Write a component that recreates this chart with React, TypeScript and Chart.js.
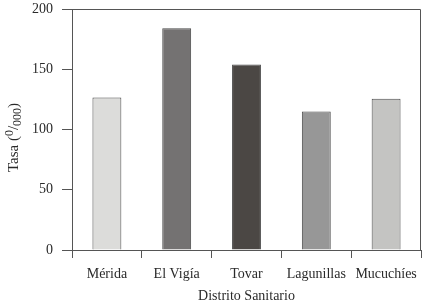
import React, { useEffect, useRef } from "react";
import { Chart, registerables } from "chart.js";

Chart.register(...registerables);

const categories = ["Mérida", "El Vigía", "Tovar", "Lagunillas", "Mucuchíes"];
const tasa = [126.5, 184, 154, 115, 125.5];
const barColors = ["#dcdcda", "#747272", "#4b4744", "#979797", "#c4c4c2"];
const yTicks = [0, 50, 100, 150, 200];
const xTitle = "Distrito Sanitario";

const FONT = "'Liberation Serif', 'Times New Roman', serif";
const AXIS = "#555555";
const TEXT = "#2a2a2a";

const framePlugin = {
  id: "frame",
  afterDraw(chart: any) {
    const { ctx, chartArea } = chart;
    const { left, right, top, bottom } = chartArea;
    ctx.save();
    ctx.strokeStyle = AXIS;
    ctx.lineWidth = 1;
    ctx.beginPath();
    ctx.moveTo(left, Math.round(top) + 0.5);
    ctx.lineTo(right - 0.5, Math.round(top) + 0.5);
    ctx.lineTo(right - 0.5, bottom);
    ctx.stroke();

    // x title
    ctx.fillStyle = TEXT;
    ctx.font = `14px ${FONT}`;
    ctx.textAlign = "center";
    ctx.textBaseline = "alphabetic";
    ctx.fillText(xTitle, (left + right) / 2, 300);

    // y title: Tasa (0/000) with super/subscript
    const big = `15px ${FONT}`;
    const small = `12px ${FONT}`;
    const parts: [string, string, number][] = [
      ["Tasa (", big, 0],
      ["0", small, -5],
      ["/", big, 0],
      ["000", small, 3],
      [")", big, 0],
    ];
    let total = 0;
    const widths = parts.map(([t, f]) => {
      ctx.font = f;
      const w = ctx.measureText(t).width;
      total += w;
      return w;
    });
    ctx.translate(18, 137.5);
    ctx.rotate(-Math.PI / 2);
    ctx.textAlign = "left";
    let x = -total / 2;
    parts.forEach(([t, f, dy], i) => {
      ctx.font = f;
      ctx.fillText(t, x, dy);
      x += widths[i];
    });
    ctx.restore();
  },
};

export default function App() {
  const ref = useRef<HTMLCanvasElement>(null);
  useEffect(() => {
    if (!ref.current) return;
    const chart = new Chart(ref.current, {
      type: "bar",
      data: {
        labels: categories,
        datasets: [
          {
            data: tasa,
            backgroundColor: barColors,
            borderColor: "#4a4a4a",
            borderWidth: 1,
            categoryPercentage: 1,
            barPercentage: 0.414,
          },
        ],
      },
      options: {
        animation: false,
        responsive: false,
        maintainAspectRatio: false,
        layout: { padding: { top: 9, right: 1, left: 0, bottom: 0 } },
        plugins: { legend: { display: false }, tooltip: { enabled: false } },
        scales: {
          x: {
            grid: {
              display: true,
              drawOnChartArea: false,
              drawTicks: true,
              tickLength: 8,
              color: AXIS,
              offset: true,
            },
            border: { display: true, color: AXIS },
            ticks: {
              color: TEXT,
              font: { family: FONT, size: 14, lineHeight: 1.2 },
              padding: 8,
              maxRotation: 0,
            },
            afterFit: (s: any) => {
              s.height = 56;
              s.paddingLeft = 0;
              s.paddingRight = 0;
            },
          },
          y: {
            min: 0,
            max: 200,
            afterBuildTicks: (s: any) => {
              s.ticks = yTicks.map((v) => ({ value: v }));
            },
            grid: {
              display: true,
              drawOnChartArea: false,
              drawTicks: true,
              tickLength: 10,
              color: AXIS,
            },
            border: { display: true, color: AXIS },
            ticks: {
              color: TEXT,
              font: { family: FONT, size: 14, lineHeight: 1.2 },
              padding: 9,
            },
            afterFit: (s: any) => {
              s.width = 72;
              s.paddingTop = 0;
              s.paddingBottom = 0;
            },
          },
        },
      },
      plugins: [framePlugin],
    });
    return () => chart.destroy();
  }, []);
  return (
    <div style={{ position: "fixed", left: 0, top: 0, width: 422, height: 306, background: "#fff" }}>
      <canvas ref={ref} width={422} height={306} style={{ width: 422, height: 306 }} />
    </div>
  );
}
